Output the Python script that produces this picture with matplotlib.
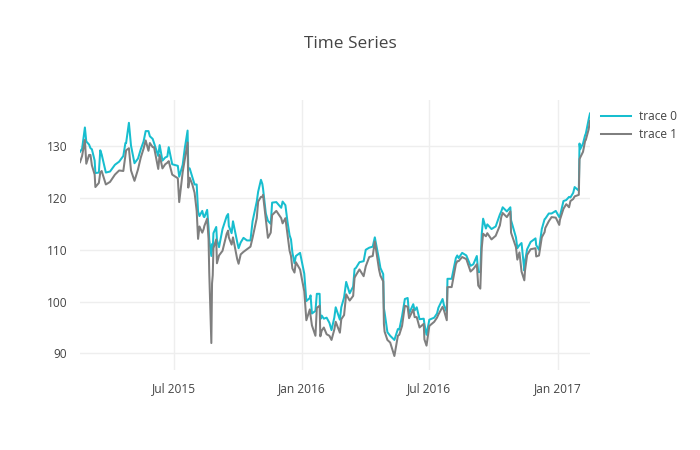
import matplotlib
matplotlib.use("Agg")
import matplotlib.pyplot as plt
import matplotlib.dates as mdates
import pandas as pd

plt.rcParams['font.family'] = ['Open Sans', 'DejaVu Sans']

dates = [
    "2015-02-17", "2015-02-20", "2015-02-24", "2015-02-26", "2015-03-02", "2015-03-04",
    "2015-03-06", "2015-03-10", "2015-03-11", "2015-03-16", "2015-03-18", "2015-03-20",
    "2015-03-26", "2015-04-01", "2015-04-08", "2015-04-14", "2015-04-20", "2015-04-23",
    "2015-04-24", "2015-04-28", "2015-05-01", "2015-05-06", "2015-05-11", "2015-05-15",
    "2015-05-19", "2015-05-22", "2015-05-26", "2015-05-28", "2015-06-01", "2015-06-03",
    "2015-06-09", "2015-06-11", "2015-06-15", "2015-06-19", "2015-06-22", "2015-06-24",
    "2015-06-29", "2015-07-07", "2015-07-09", "2015-07-14", "2015-07-17", "2015-07-21",
    "2015-07-22", "2015-07-24", "2015-07-28", "2015-07-31", "2015-08-03", "2015-08-05",
    "2015-08-07", "2015-08-11", "2015-08-13", "2015-08-14", "2015-08-18", "2015-08-20",
    "2015-08-21", "2015-08-24", "2015-08-25", "2015-08-26", "2015-08-27", "2015-08-31",
    "2015-09-01", "2015-09-04", "2015-09-09", "2015-09-15", "2015-09-17", "2015-09-18",
    "2015-09-22", "2015-09-24", "2015-09-30", "2015-10-02", "2015-10-05", "2015-10-09",
    "2015-10-14", "2015-10-19", "2015-10-22", "2015-10-28", "2015-10-30", "2015-11-03",
    "2015-11-05", "2015-11-06", "2015-11-10", "2015-11-13", "2015-11-17", "2015-11-19",
    "2015-11-25", "2015-12-02", "2015-12-04", "2015-12-08", "2015-12-11", "2015-12-14",
    "2015-12-16", "2015-12-18", "2015-12-21", "2015-12-23", "2015-12-29", "2016-01-04",
    "2016-01-07", "2016-01-12", "2016-01-13", "2016-01-15", "2016-01-20", "2016-01-22",
    "2016-01-26", "2016-01-27", "2016-01-29", "2016-02-01", "2016-02-05", "2016-02-09",
    "2016-02-12", "2016-02-16", "2016-02-18", "2016-02-24", "2016-02-26", "2016-03-01",
    "2016-03-04", "2016-03-09", "2016-03-14", "2016-03-16", "2016-03-18", "2016-03-23",
    "2016-03-29", "2016-04-01", "2016-04-06", "2016-04-11", "2016-04-14", "2016-04-20",
    "2016-04-22", "2016-04-26", "2016-04-27", "2016-04-28", "2016-05-02", "2016-05-06",
    "2016-05-12", "2016-05-17", "2016-05-19", "2016-05-23", "2016-05-27", "2016-05-31",
    "2016-06-02", "2016-06-08", "2016-06-10", "2016-06-13", "2016-06-17", "2016-06-23",
    "2016-06-24", "2016-06-27", "2016-07-01", "2016-07-08", "2016-07-12", "2016-07-14",
    "2016-07-20", "2016-07-22", "2016-07-26", "2016-07-27", "2016-08-02", "2016-08-08",
    "2016-08-10", "2016-08-12", "2016-08-17", "2016-08-23", "2016-08-29", "2016-09-02",
    "2016-09-07", "2016-09-09", "2016-09-12", "2016-09-14", "2016-09-16", "2016-09-20",
    "2016-09-22", "2016-09-28", "2016-10-04", "2016-10-10", "2016-10-12", "2016-10-14",
    "2016-10-20", "2016-10-25", "2016-10-26", "2016-11-02", "2016-11-04", "2016-11-07",
    "2016-11-10", "2016-11-14", "2016-11-15", "2016-11-18", "2016-11-23", "2016-11-30",
    "2016-12-01", "2016-12-05", "2016-12-09", "2016-12-13", "2016-12-14", "2016-12-19",
    "2016-12-23", "2016-12-29", "2017-01-03", "2017-01-04", "2017-01-09", "2017-01-13",
    "2017-01-17", "2017-01-19", "2017-01-23", "2017-01-25", "2017-01-31", "2017-02-01",
    "2017-02-02", "2017-02-06", "2017-02-09", "2017-02-10", "2017-02-14", "2017-02-16",
]

high = [
    128.9, 129.5, 133.6, 130.9, 130.3, 129.6,
    129.4, 127.2, 124.8, 124.9, 129.2, 128.4,
    124.9, 125.1, 126.4, 127.0, 128.1, 130.6,
    130.6, 134.5, 130.1, 126.7, 127.6, 129.4,
    130.9, 132.9, 132.9, 131.9, 131.4, 130.6,
    128.1, 130.2, 127.2, 127.8, 128.0, 129.8,
    126.5, 126.2, 124.1, 126.4, 129.6, 133.0,
    125.5, 125.7, 123.9, 122.6, 122.6, 117.4,
    116.5, 117.5, 116.4, 116.3, 117.7, 114.4,
    111.9, 108.8, 111.1, 109.9, 113.2, 114.4,
    111.9, 110.5, 114.0, 116.5, 116.9, 114.6,
    113.2, 115.5, 111.5, 110.3, 111.4, 112.3,
    111.8, 111.8, 115.5, 119.3, 121.2, 123.5,
    122.7, 121.8, 117.0, 115.6, 115.0, 119.1,
    119.2, 118.1, 119.3, 118.6, 115.4, 112.8,
    112.0, 109.5, 107.4, 108.8, 109.4, 105.4,
    100.1, 100.7, 101.2, 97.7, 98.2, 101.5,
    101.5, 96.6, 97.3, 96.7, 96.9, 95.9,
    94.5, 96.9, 98.9, 96.5, 98.9, 100.8,
    103.8, 101.6, 102.9, 106.3, 106.5, 107.6,
    107.8, 110.0, 110.4, 110.6, 112.4, 108.1,
    106.5, 105.3, 98.7, 97.9, 94.1, 93.4,
    92.6, 94.7, 94.6, 97.2, 100.5, 100.7,
    97.7, 99.5, 98.3, 98.9, 96.6, 96.7,
    95.7, 93.6, 96.5, 96.9, 97.7, 98.8,
    100.5, 99.3, 98.0, 104.4, 104.4, 108.4,
    108.9, 108.4, 109.4, 108.9, 106.9, 107.2,
    108.8, 105.7, 105.7, 113.0, 116.0, 114.1,
    114.9, 114.0, 114.5, 116.8, 117.4, 118.2,
    117.4, 118.2, 115.7, 112.4, 110.3, 110.9,
    111.3, 106.0, 107.8, 110.1, 111.5, 112.2,
    110.9, 110.0, 114.0, 115.9, 116.0, 117.0,
    117.0, 117.5, 116.3, 116.5, 119.4, 119.6,
    120.2, 120.1, 121.0, 122.1, 121.4, 130.5,
    129.4, 130.5, 132.1, 132.4, 135.1, 136.3,
]

low = [
    126.9, 128.1, 131.2, 126.6, 128.3, 128.3,
    126.3, 124.5, 122.1, 122.9, 124.9, 125.2,
    122.6, 123.1, 124.5, 125.3, 125.2, 128.1,
    129.2, 129.6, 125.3, 123.3, 125.5, 127.8,
    129.5, 131.1, 129.1, 130.6, 129.8, 129.8,
    125.6, 128.3, 125.7, 126.5, 126.8, 127.1,
    124.5, 123.8, 119.2, 125.0, 127.4, 130.7,
    122.0, 123.9, 122.5, 121.0, 117.5, 112.1,
    114.5, 113.3, 114.0, 114.6, 116.0, 112.1,
    105.6, 92.0, 103.5, 105.1, 110.3, 112.0,
    107.4, 108.9, 109.8, 113.1, 113.7, 112.4,
    111.0, 112.4, 108.2, 107.3, 109.1, 109.6,
    110.1, 110.6, 112.3, 116.1, 119.3, 120.2,
    120.2, 120.6, 115.9, 112.3, 113.3, 116.7,
    117.5, 116.1, 115.1, 116.1, 112.9, 109.8,
    108.8, 106.4, 105.6, 107.6, 106.2, 102.0,
    96.4, 98.5, 97.3, 95.4, 93.4, 98.8,
    99.2, 93.3, 94.4, 95.0, 93.7, 93.4,
    92.6, 94.6, 96.1, 94.0, 96.6, 97.4,
    101.4, 100.2, 101.1, 104.6, 105.1, 106.2,
    104.9, 106.8, 108.6, 108.8, 111.6, 106.2,
    105.0, 103.9, 95.7, 94.2, 92.6, 92.1,
    89.5, 93.4, 93.6, 95.3, 99.2, 99.0,
    96.8, 98.5, 97.0, 97.0, 95.0, 95.7,
    92.7, 91.5, 95.3, 96.1, 96.9, 97.5,
    99.0, 98.3, 96.4, 102.8, 102.8, 107.2,
    107.8, 107.8, 108.6, 108.2, 105.8, 106.3,
    107.2, 103.1, 102.5, 110.3, 113.1, 112.6,
    113.2, 112.0, 112.7, 114.7, 116.3, 117.1,
    116.3, 117.4, 113.3, 110.5, 108.1, 109.5,
    105.8, 104.1, 106.0, 109.0, 110.1, 110.3,
    108.7, 108.9, 112.4, 113.4, 114.2, 115.5,
    116.3, 116.2, 114.8, 115.8, 117.9, 118.8,
    118.2, 119.4, 119.8, 120.3, 120.6, 127.5,
    127.8, 128.9, 131.0, 131.2, 133.2, 134.9,
]

x = pd.to_datetime(dates)

fig = plt.figure(figsize=(7, 4.5), dpi=100)
ax = fig.add_axes([80 / 700, 80 / 450, 510 / 700, 270 / 450])

ax.plot(x, high, color='#17BECF', lw=1.45, label='trace 0')
ax.plot(x, low, color='#7F7F7F', lw=1.45, label='trace 1')

ax.set_xlim(x[0], x[-1])
ax.set_ylim(86.8, 138.9)
ax.set_yticks([90, 100, 110, 120, 130])
ax.set_xticks(pd.to_datetime(["2015-07-01", "2016-01-01", "2016-07-01", "2017-01-01"]))
ax.xaxis.set_major_formatter(mdates.DateFormatter('%b %Y'))

ax.grid(True, color='#eeeeee', lw=1)
ax.set_axisbelow(True)
for s in ax.spines.values():
    s.set_visible(False)
ax.tick_params(length=0, labelsize=8.6, colors='#444444', pad=9)

fig.suptitle('Time Series', x=0.5, y=1 - 44 / 450, va='center',
             fontsize=12.4, color='#444444')

leg = ax.legend(loc='upper left', bbox_to_anchor=(596 / 700, 1 - 105 / 450),
                bbox_transform=fig.transFigure, frameon=False, fontsize=8.6,
                handlelength=2.5, handletextpad=0.7, labelspacing=0.45,
                borderaxespad=0)
for t in leg.get_texts():
    t.set_color('#444444')

fig.savefig('out.png', dpi=100)
